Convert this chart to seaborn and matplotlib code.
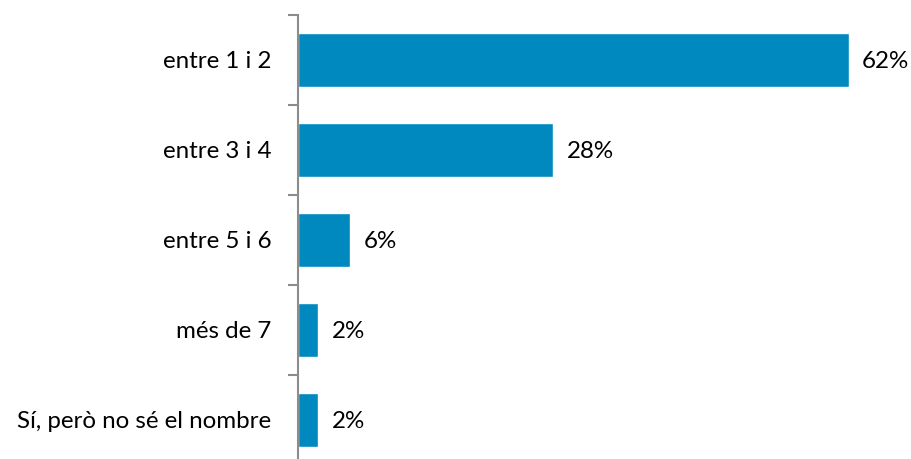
import matplotlib
matplotlib.use("Agg")
import matplotlib.pyplot as plt
import seaborn as sns
import pandas as pd

categories = ["entre 1 i 2", "entre 3 i 4", "entre 5 i 6", "més de 7", "Sí, però no sé el nombre"]
values = [61.9, 28.7, 5.9, 2.3, 2.3]
labels = ["62%", "28%", "6%", "2%", "2%"]

sns.set_style("white")
plt.rcParams['font.family'] = ['Lato', 'DejaVu Sans']

df = pd.DataFrame({"cat": categories, "val": values})
W, H = 911, 459
fig = plt.figure(figsize=(W/100, H/100), dpi=100)
left, right = 298/W, 903/W
top, bottom = 1 - 15/H, 1 - 465/H
ax = fig.add_axes([left, bottom, right - left, top - bottom])
sns.barplot(data=df, y="cat", x="val", color="#0089BF", width=0.59, ax=ax, saturation=1)
ax.set_xlim(0, 68)
ax.set_ylim(4.5, -0.5)
for s in ["top", "right", "bottom"]:
    ax.spines[s].set_visible(False)
ax.spines["left"].set_color("#8C8C8C")
ax.spines["left"].set_linewidth(1.5)
ax.set_xticks([])
ax.set_xlabel("")
ax.set_ylabel("")
ax.tick_params(axis="y", which="major", left=True, length=0, pad=19, labelsize=17.4, labelcolor="black")
ax.set_yticks([i - 0.5 for i in range(len(categories) + 1)], minor=True)
ax.tick_params(axis="y", which="minor", left=True, length=7, width=1.5, color="#8C8C8C", direction="out")
for i, (v, lab) in enumerate(zip(values, labels)):
    ax.text(v + 1.5, i + 0.02, lab, va="center", ha="left", fontsize=17.4, color="black")
fig.savefig("out.png", dpi=100)
